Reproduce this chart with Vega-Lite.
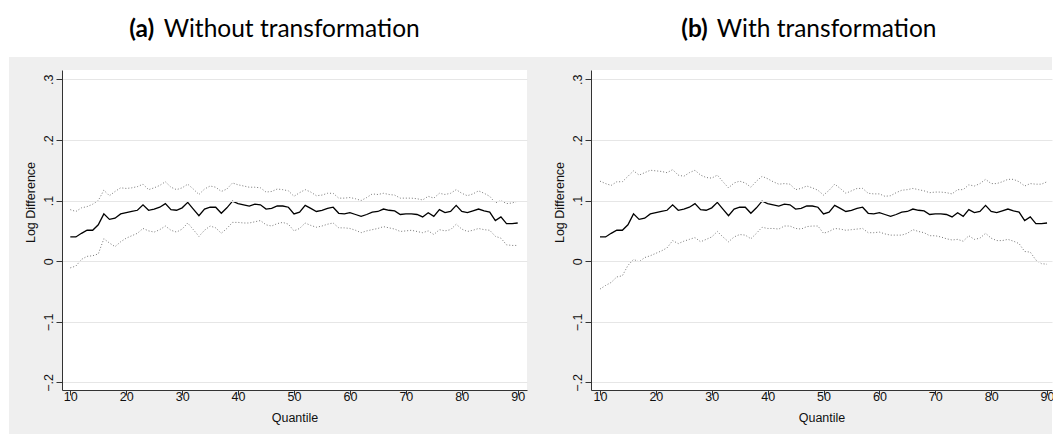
{
  "$schema": "https://vega.github.io/schema/vega-lite/v6.json",
  "background": "white",
  "padding": {"left": 8, "top": 17, "right": 0, "bottom": 0},
  "spacing": 64,
  "bounds": "flush",
  "datasets": {
    "noTransform": [
      {"q": 10, "est": 0.040, "lo": -0.011, "hi": 0.085},
      {"q": 11, "est": 0.040, "lo": -0.008, "hi": 0.082},
      {"q": 12, "est": 0.046, "lo": 0.003, "hi": 0.088},
      {"q": 13, "est": 0.051, "lo": 0.008, "hi": 0.090},
      {"q": 14, "est": 0.051, "lo": 0.009, "hi": 0.094},
      {"q": 15, "est": 0.060, "lo": 0.012, "hi": 0.100},
      {"q": 16, "est": 0.078, "lo": 0.037, "hi": 0.117},
      {"q": 17, "est": 0.069, "lo": 0.030, "hi": 0.108},
      {"q": 18, "est": 0.071, "lo": 0.024, "hi": 0.115},
      {"q": 19, "est": 0.078, "lo": 0.032, "hi": 0.121},
      {"q": 20, "est": 0.080, "lo": 0.038, "hi": 0.120},
      {"q": 21, "est": 0.082, "lo": 0.042, "hi": 0.121},
      {"q": 22, "est": 0.084, "lo": 0.046, "hi": 0.123},
      {"q": 23, "est": 0.093, "lo": 0.054, "hi": 0.127},
      {"q": 24, "est": 0.084, "lo": 0.050, "hi": 0.118},
      {"q": 25, "est": 0.086, "lo": 0.048, "hi": 0.121},
      {"q": 26, "est": 0.089, "lo": 0.052, "hi": 0.125},
      {"q": 27, "est": 0.095, "lo": 0.058, "hi": 0.131},
      {"q": 28, "est": 0.085, "lo": 0.051, "hi": 0.122},
      {"q": 29, "est": 0.084, "lo": 0.048, "hi": 0.118},
      {"q": 30, "est": 0.088, "lo": 0.053, "hi": 0.121},
      {"q": 31, "est": 0.097, "lo": 0.063, "hi": 0.127},
      {"q": 32, "est": 0.086, "lo": 0.052, "hi": 0.119},
      {"q": 33, "est": 0.075, "lo": 0.041, "hi": 0.110},
      {"q": 34, "est": 0.086, "lo": 0.051, "hi": 0.119},
      {"q": 35, "est": 0.089, "lo": 0.058, "hi": 0.124},
      {"q": 36, "est": 0.089, "lo": 0.055, "hi": 0.122},
      {"q": 37, "est": 0.079, "lo": 0.046, "hi": 0.115},
      {"q": 38, "est": 0.088, "lo": 0.054, "hi": 0.119},
      {"q": 39, "est": 0.099, "lo": 0.064, "hi": 0.129},
      {"q": 40, "est": 0.095, "lo": 0.064, "hi": 0.126},
      {"q": 41, "est": 0.093, "lo": 0.063, "hi": 0.124},
      {"q": 42, "est": 0.091, "lo": 0.063, "hi": 0.122},
      {"q": 43, "est": 0.094, "lo": 0.065, "hi": 0.122},
      {"q": 44, "est": 0.093, "lo": 0.067, "hi": 0.121},
      {"q": 45, "est": 0.086, "lo": 0.060, "hi": 0.114},
      {"q": 46, "est": 0.087, "lo": 0.058, "hi": 0.115},
      {"q": 47, "est": 0.091, "lo": 0.062, "hi": 0.119},
      {"q": 48, "est": 0.091, "lo": 0.064, "hi": 0.118},
      {"q": 49, "est": 0.089, "lo": 0.061, "hi": 0.116},
      {"q": 50, "est": 0.078, "lo": 0.050, "hi": 0.107},
      {"q": 51, "est": 0.081, "lo": 0.054, "hi": 0.113},
      {"q": 52, "est": 0.092, "lo": 0.063, "hi": 0.118},
      {"q": 53, "est": 0.087, "lo": 0.059, "hi": 0.114},
      {"q": 54, "est": 0.082, "lo": 0.056, "hi": 0.108},
      {"q": 55, "est": 0.084, "lo": 0.058, "hi": 0.109},
      {"q": 56, "est": 0.087, "lo": 0.061, "hi": 0.112},
      {"q": 57, "est": 0.089, "lo": 0.063, "hi": 0.112},
      {"q": 58, "est": 0.079, "lo": 0.055, "hi": 0.104},
      {"q": 59, "est": 0.078, "lo": 0.055, "hi": 0.104},
      {"q": 60, "est": 0.080, "lo": 0.054, "hi": 0.105},
      {"q": 61, "est": 0.077, "lo": 0.051, "hi": 0.103},
      {"q": 62, "est": 0.074, "lo": 0.047, "hi": 0.100},
      {"q": 63, "est": 0.077, "lo": 0.050, "hi": 0.105},
      {"q": 64, "est": 0.081, "lo": 0.052, "hi": 0.111},
      {"q": 65, "est": 0.082, "lo": 0.054, "hi": 0.110},
      {"q": 66, "est": 0.086, "lo": 0.057, "hi": 0.112},
      {"q": 67, "est": 0.084, "lo": 0.055, "hi": 0.110},
      {"q": 68, "est": 0.083, "lo": 0.053, "hi": 0.109},
      {"q": 69, "est": 0.077, "lo": 0.049, "hi": 0.104},
      {"q": 70, "est": 0.078, "lo": 0.050, "hi": 0.104},
      {"q": 71, "est": 0.078, "lo": 0.051, "hi": 0.104},
      {"q": 72, "est": 0.077, "lo": 0.049, "hi": 0.103},
      {"q": 73, "est": 0.073, "lo": 0.047, "hi": 0.101},
      {"q": 74, "est": 0.080, "lo": 0.050, "hi": 0.107},
      {"q": 75, "est": 0.074, "lo": 0.044, "hi": 0.104},
      {"q": 76, "est": 0.085, "lo": 0.052, "hi": 0.112},
      {"q": 77, "est": 0.080, "lo": 0.050, "hi": 0.110},
      {"q": 78, "est": 0.082, "lo": 0.052, "hi": 0.112},
      {"q": 79, "est": 0.092, "lo": 0.061, "hi": 0.118},
      {"q": 80, "est": 0.082, "lo": 0.053, "hi": 0.112},
      {"q": 81, "est": 0.080, "lo": 0.049, "hi": 0.108},
      {"q": 82, "est": 0.083, "lo": 0.051, "hi": 0.111},
      {"q": 83, "est": 0.086, "lo": 0.054, "hi": 0.116},
      {"q": 84, "est": 0.083, "lo": 0.052, "hi": 0.112},
      {"q": 85, "est": 0.081, "lo": 0.051, "hi": 0.107},
      {"q": 86, "est": 0.067, "lo": 0.041, "hi": 0.096},
      {"q": 87, "est": 0.073, "lo": 0.038, "hi": 0.100},
      {"q": 88, "est": 0.062, "lo": 0.027, "hi": 0.095},
      {"q": 89, "est": 0.062, "lo": 0.026, "hi": 0.096},
      {"q": 90, "est": 0.063, "lo": 0.026, "hi": 0.099}
    ],
    "withTransform": [
      {"q": 10, "est": 0.040, "lo": -0.046, "hi": 0.132},
      {"q": 11, "est": 0.040, "lo": -0.040, "hi": 0.128},
      {"q": 12, "est": 0.046, "lo": -0.035, "hi": 0.125},
      {"q": 13, "est": 0.051, "lo": -0.026, "hi": 0.131},
      {"q": 14, "est": 0.051, "lo": -0.024, "hi": 0.131},
      {"q": 15, "est": 0.060, "lo": -0.007, "hi": 0.140},
      {"q": 16, "est": 0.078, "lo": 0.003, "hi": 0.149},
      {"q": 17, "est": 0.069, "lo": -0.001, "hi": 0.142},
      {"q": 18, "est": 0.071, "lo": 0.006, "hi": 0.146},
      {"q": 19, "est": 0.078, "lo": 0.009, "hi": 0.150},
      {"q": 20, "est": 0.080, "lo": 0.013, "hi": 0.149},
      {"q": 21, "est": 0.082, "lo": 0.017, "hi": 0.148},
      {"q": 22, "est": 0.084, "lo": 0.022, "hi": 0.146},
      {"q": 23, "est": 0.093, "lo": 0.034, "hi": 0.151},
      {"q": 24, "est": 0.084, "lo": 0.029, "hi": 0.142},
      {"q": 25, "est": 0.086, "lo": 0.033, "hi": 0.140},
      {"q": 26, "est": 0.089, "lo": 0.036, "hi": 0.146},
      {"q": 27, "est": 0.095, "lo": 0.039, "hi": 0.150},
      {"q": 28, "est": 0.085, "lo": 0.032, "hi": 0.142},
      {"q": 29, "est": 0.084, "lo": 0.036, "hi": 0.138},
      {"q": 30, "est": 0.088, "lo": 0.040, "hi": 0.137},
      {"q": 31, "est": 0.097, "lo": 0.049, "hi": 0.142},
      {"q": 32, "est": 0.086, "lo": 0.040, "hi": 0.131},
      {"q": 33, "est": 0.075, "lo": 0.032, "hi": 0.121},
      {"q": 34, "est": 0.086, "lo": 0.040, "hi": 0.129},
      {"q": 35, "est": 0.089, "lo": 0.044, "hi": 0.132},
      {"q": 36, "est": 0.089, "lo": 0.043, "hi": 0.129},
      {"q": 37, "est": 0.079, "lo": 0.037, "hi": 0.122},
      {"q": 38, "est": 0.088, "lo": 0.046, "hi": 0.132},
      {"q": 39, "est": 0.099, "lo": 0.056, "hi": 0.140},
      {"q": 40, "est": 0.095, "lo": 0.054, "hi": 0.136},
      {"q": 41, "est": 0.093, "lo": 0.054, "hi": 0.131},
      {"q": 42, "est": 0.091, "lo": 0.053, "hi": 0.127},
      {"q": 43, "est": 0.094, "lo": 0.058, "hi": 0.128},
      {"q": 44, "est": 0.093, "lo": 0.058, "hi": 0.127},
      {"q": 45, "est": 0.086, "lo": 0.054, "hi": 0.118},
      {"q": 46, "est": 0.087, "lo": 0.053, "hi": 0.120},
      {"q": 47, "est": 0.091, "lo": 0.057, "hi": 0.124},
      {"q": 48, "est": 0.091, "lo": 0.058, "hi": 0.121},
      {"q": 49, "est": 0.089, "lo": 0.058, "hi": 0.117},
      {"q": 50, "est": 0.078, "lo": 0.046, "hi": 0.109},
      {"q": 51, "est": 0.081, "lo": 0.049, "hi": 0.117},
      {"q": 52, "est": 0.092, "lo": 0.054, "hi": 0.127},
      {"q": 53, "est": 0.087, "lo": 0.053, "hi": 0.120},
      {"q": 54, "est": 0.082, "lo": 0.051, "hi": 0.112},
      {"q": 55, "est": 0.084, "lo": 0.052, "hi": 0.116},
      {"q": 56, "est": 0.087, "lo": 0.053, "hi": 0.120},
      {"q": 57, "est": 0.089, "lo": 0.054, "hi": 0.120},
      {"q": 58, "est": 0.079, "lo": 0.047, "hi": 0.112},
      {"q": 59, "est": 0.078, "lo": 0.047, "hi": 0.111},
      {"q": 60, "est": 0.080, "lo": 0.048, "hi": 0.111},
      {"q": 61, "est": 0.077, "lo": 0.045, "hi": 0.107},
      {"q": 62, "est": 0.074, "lo": 0.043, "hi": 0.108},
      {"q": 63, "est": 0.077, "lo": 0.043, "hi": 0.113},
      {"q": 64, "est": 0.081, "lo": 0.043, "hi": 0.117},
      {"q": 65, "est": 0.082, "lo": 0.046, "hi": 0.118},
      {"q": 66, "est": 0.086, "lo": 0.052, "hi": 0.120},
      {"q": 67, "est": 0.084, "lo": 0.049, "hi": 0.118},
      {"q": 68, "est": 0.083, "lo": 0.047, "hi": 0.116},
      {"q": 69, "est": 0.077, "lo": 0.042, "hi": 0.113},
      {"q": 70, "est": 0.078, "lo": 0.042, "hi": 0.114},
      {"q": 71, "est": 0.078, "lo": 0.040, "hi": 0.114},
      {"q": 72, "est": 0.077, "lo": 0.037, "hi": 0.113},
      {"q": 73, "est": 0.073, "lo": 0.035, "hi": 0.111},
      {"q": 74, "est": 0.080, "lo": 0.036, "hi": 0.118},
      {"q": 75, "est": 0.074, "lo": 0.033, "hi": 0.118},
      {"q": 76, "est": 0.085, "lo": 0.042, "hi": 0.126},
      {"q": 77, "est": 0.080, "lo": 0.036, "hi": 0.124},
      {"q": 78, "est": 0.082, "lo": 0.038, "hi": 0.128},
      {"q": 79, "est": 0.092, "lo": 0.046, "hi": 0.135},
      {"q": 80, "est": 0.082, "lo": 0.038, "hi": 0.128},
      {"q": 81, "est": 0.080, "lo": 0.034, "hi": 0.128},
      {"q": 82, "est": 0.083, "lo": 0.034, "hi": 0.131},
      {"q": 83, "est": 0.086, "lo": 0.036, "hi": 0.135},
      {"q": 84, "est": 0.083, "lo": 0.033, "hi": 0.135},
      {"q": 85, "est": 0.081, "lo": 0.029, "hi": 0.131},
      {"q": 86, "est": 0.067, "lo": 0.016, "hi": 0.124},
      {"q": 87, "est": 0.073, "lo": 0.015, "hi": 0.128},
      {"q": 88, "est": 0.062, "lo": 0.002, "hi": 0.127},
      {"q": 89, "est": 0.062, "lo": -0.004, "hi": 0.127},
      {"q": 90, "est": 0.063, "lo": -0.005, "hi": 0.131}
    ]
  },
  "hconcat": [
    {
      "width": 465,
      "height": 320,
      "layer": [
        {
          "data": {"values": [{}]},
          "mark": {"type": "rect", "fill": "#efefef"},
          "encoding": {
            "x": {
              "datum": -0.961, "type": "quantitative",
              "scale": {"domain": [8.516, 91.663], "nice": false, "zero": false},
              "axis": {
                "zindex": 2, "title": "Quantile", "values": [10, 20, 30, 40, 50, 60, 70, 80, 90], "grid": false,
                "domainColor": "#333333", "tickColor": "#333333", "tickSize": 5,
                "labelFont": "Liberation Sans", "labelFontSize": 12.5, "labelColor": "#111111", "labelPadding": -5,
                "labelFlush": false, "labelOverlap": false,
                "titleFont": "Liberation Sans", "titleFontSize": 12.5, "titleFontWeight": "normal", "titleColor": "#111111", "titlePadding": 9
              }
            },
            "x2": {"datum": 97.74},
            "y": {
              "datum": 0.3367, "type": "quantitative",
              "scale": {"domain": [-0.2124, 0.3153], "nice": false, "zero": false},
              "axis": {
                "zindex": 2, "title": "Log Difference", "values": [-0.2, -0.1, 0, 0.1, 0.2, 0.3],
                "grid": true, "gridColor": "#e6e6e6", "gridWidth": 1,
                "domainColor": "#333333", "tickColor": "#333333", "tickSize": 6,
                "labelFont": "Liberation Sans", "labelFontSize": 12.5, "labelColor": "#111111",
                "labelAngle": 270, "labelAlign": "center", "labelBaseline": "alphabetic", "labelPadding": 4,
                "labelFlush": false, "labelOverlap": false,
                "labelExpr": "datum.value === 0 ? '0' : replace(format(datum.value, '.1f'), '0.', '.')",
                "titleFont": "Liberation Sans", "titleFontSize": 12.5, "titleFontWeight": "normal", "titleColor": "#111111",
                "titlePadding": 5, "titleY": 132
              }
            },
            "y2": {"datum": -0.2866}
          }
        },
        {
          "data": {"values": [{}]},
          "mark": {"type": "rect", "fill": "#ffffff"},
          "encoding": {
            "x": {"datum": 8.516, "type": "quantitative"},
            "x2": {"datum": 91.663},
            "y": {"datum": 0.3153, "type": "quantitative"},
            "y2": {"datum": -0.2124}
          }
        },
        {
          "data": {"name": "noTransform"},
          "mark": {"type": "line", "color": "#777777", "strokeWidth": 1, "strokeDash": [1, 2]},
          "encoding": {
            "x": {"field": "q", "type": "quantitative"},
            "y": {"field": "hi", "type": "quantitative"}
          }
        },
        {
          "data": {"name": "noTransform"},
          "mark": {"type": "line", "color": "#777777", "strokeWidth": 1, "strokeDash": [1, 2]},
          "encoding": {
            "x": {"field": "q", "type": "quantitative"},
            "y": {"field": "lo", "type": "quantitative"}
          }
        },
        {
          "data": {"name": "noTransform"},
          "mark": {"type": "line", "color": "#000000", "strokeWidth": 1.3},
          "encoding": {
            "x": {"field": "q", "type": "quantitative"},
            "y": {"field": "est", "type": "quantitative"}
          }
        },
        {
          "data": {"values": [{}]},
          "mark": {"type": "text", "text": "(a)", "align": "right", "baseline": "alphabetic", "font": "Lato", "fontSize": 24.5, "fontWeight": "bold", "color": "#000000"},
          "encoding": {
            "x": {"datum": 25.02, "type": "quantitative"},
            "y": {"datum": 0.3697, "type": "quantitative"}
          }
        },
        {
          "data": {"values": [{}]},
          "mark": {"type": "text", "text": "Without transformation", "align": "left", "baseline": "alphabetic", "font": "Lato", "fontSize": 24.5, "fontWeight": "normal", "color": "#000000"},
          "encoding": {
            "x": {"datum": 26.70, "type": "quantitative"},
            "y": {"datum": 0.3697, "type": "quantitative"}
          }
        }
      ]
    },
    {
      "width": 461,
      "height": 320,
      "layer": [
        {
          "data": {"values": [{}]},
          "mark": {"type": "rect", "fill": "#efefef"},
          "encoding": {
            "x": {
              "datum": -0.56, "type": "quantitative",
              "scale": {"domain": [8.39, 90.89], "nice": false, "zero": false},
              "axis": {
                "zindex": 2, "title": "Quantile", "values": [10, 20, 30, 40, 50, 60, 70, 80, 90], "grid": false,
                "domainColor": "#333333", "tickColor": "#333333", "tickSize": 5,
                "labelFont": "Liberation Sans", "labelFontSize": 12.5, "labelColor": "#111111", "labelPadding": -5,
                "labelFlush": false, "labelOverlap": false,
                "titleFont": "Liberation Sans", "titleFontSize": 12.5, "titleFontWeight": "normal", "titleColor": "#111111", "titlePadding": 9
              }
            },
            "x2": {"datum": 90.89},
            "y": {
              "datum": 0.3367, "type": "quantitative",
              "scale": {"domain": [-0.2124, 0.3153], "nice": false, "zero": false},
              "axis": {
                "zindex": 2, "title": "Log Difference", "values": [-0.2, -0.1, 0, 0.1, 0.2, 0.3],
                "grid": true, "gridColor": "#e6e6e6", "gridWidth": 1,
                "domainColor": "#333333", "tickColor": "#333333", "tickSize": 6,
                "labelFont": "Liberation Sans", "labelFontSize": 12.5, "labelColor": "#111111",
                "labelAngle": 270, "labelAlign": "center", "labelBaseline": "alphabetic", "labelPadding": 4,
                "labelFlush": false, "labelOverlap": false,
                "labelExpr": "datum.value === 0 ? '0' : replace(format(datum.value, '.1f'), '0.', '.')",
                "titleFont": "Liberation Sans", "titleFontSize": 12.5, "titleFontWeight": "normal", "titleColor": "#111111",
                "titlePadding": 5, "titleY": 132
              }
            },
            "y2": {"datum": -0.2866}
          }
        },
        {
          "data": {"values": [{}]},
          "mark": {"type": "rect", "fill": "#ffffff"},
          "encoding": {
            "x": {"datum": 8.39, "type": "quantitative"},
            "x2": {"datum": 90.89},
            "y": {"datum": 0.3153, "type": "quantitative"},
            "y2": {"datum": -0.2124}
          }
        },
        {
          "data": {"name": "withTransform"},
          "mark": {"type": "line", "color": "#777777", "strokeWidth": 1, "strokeDash": [1, 2]},
          "encoding": {
            "x": {"field": "q", "type": "quantitative"},
            "y": {"field": "hi", "type": "quantitative"}
          }
        },
        {
          "data": {"name": "withTransform"},
          "mark": {"type": "line", "color": "#777777", "strokeWidth": 1, "strokeDash": [1, 2]},
          "encoding": {
            "x": {"field": "q", "type": "quantitative"},
            "y": {"field": "lo", "type": "quantitative"}
          }
        },
        {
          "data": {"name": "withTransform"},
          "mark": {"type": "line", "color": "#000000", "strokeWidth": 1.3},
          "encoding": {
            "x": {"field": "q", "type": "quantitative"},
            "y": {"field": "est", "type": "quantitative"}
          }
        },
        {
          "data": {"values": [{}]},
          "mark": {"type": "text", "text": "(b)", "align": "right", "baseline": "alphabetic", "font": "Lato", "fontSize": 24.5, "fontWeight": "bold", "color": "#000000"},
          "encoding": {
            "x": {"datum": 29.3, "type": "quantitative"},
            "y": {"datum": 0.3697, "type": "quantitative"}
          }
        },
        {
          "data": {"values": [{}]},
          "mark": {"type": "text", "text": "With transformation", "align": "left", "baseline": "alphabetic", "font": "Lato", "fontSize": 24.5, "fontWeight": "normal", "color": "#000000"},
          "encoding": {
            "x": {"datum": 30.9, "type": "quantitative"},
            "y": {"datum": 0.3697, "type": "quantitative"}
          }
        }
      ]
    }
  ],
  "config": {
    "view": {"stroke": null}
  }
}
